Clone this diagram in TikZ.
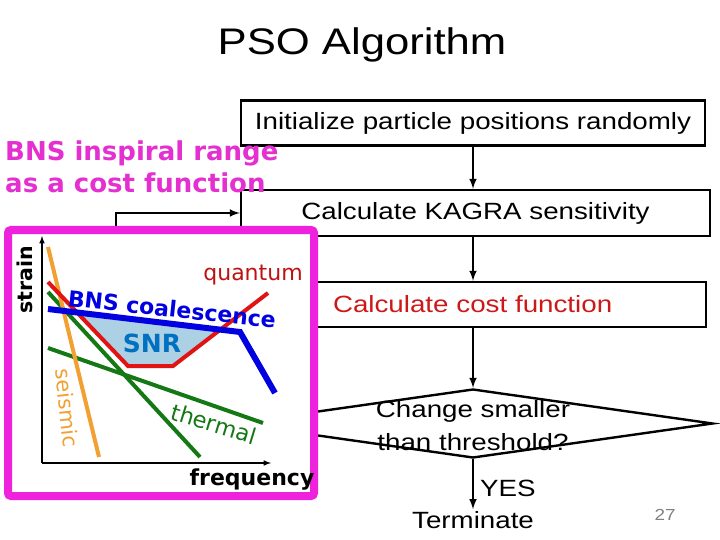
\documentclass[tikz,border=0pt]{standalone}
\usepackage{fontspec}
\setmainfont{Liberation Sans}[FakeStretch=1.18]
\newfontfamily\vfont{DejaVu Sans}
\usetikzlibrary{shapes.geometric}

\definecolor{pinkbox}{RGB}{238,34,221}
\definecolor{pinktext}{RGB}{228,48,208}
\definecolor{costred}{RGB}{204,24,24}
\definecolor{seisorange}{RGB}{242,160,50}
\definecolor{thermgreen}{RGB}{20,120,20}
\definecolor{quantred}{RGB}{225,20,20}
\definecolor{bnsblue}{RGB}{0,0,225}
\definecolor{snrblue}{RGB}{0,112,192}
\definecolor{snrfill}{RGB}{172,208,228}

\tikzset{
  stepbox/.style={draw, line width=2.4pt, inner sep=0pt, minimum height=45,
    font=\fontsize{23.5}{28}\selectfont},
  flowtext/.style={inner sep=2pt, font=\fontsize{23.5}{33}\selectfont},
  decision/.style={draw, diamond, line width=2.4pt, inner sep=0pt,
    minimum width=480, minimum height=69},
  flow/.style={->, line width=2.4pt},
  curve/.style={line width=4pt},
  plotlbl/.style={inner sep=0pt, font=\vfont\fontsize{22}{26}\selectfont}
}

\begin{document}
\begin{tikzpicture}[x=1pt,y=-1pt,>=latex]
  \useasboundingbox (0,0) rectangle (720,540);
  \node[font=\fontsize{37}{40}\selectfont] (title) at (362,45) {PSO Algorithm};

  % flow chart
  \node[stepbox, minimum width=464] (init) at (473,123) {Initialize particle positions randomly};
  \node[stepbox, minimum width=469, minimum height=46] (calc) at (475.5,213) {Calculate KAGRA sensitivity};
  \node[stepbox, text width=357, align=left, inner xsep=16pt] (cost) at (511.5,304.5) {\color{costred}Calculate cost function};
  \node[decision] (chk) at (473,423.5) {};
  \node[flowtext, align=center] (chktxt) at (473,426) {Change smaller\\than threshold?};
  \node[flowtext] (term) at (473,520) {Terminate};
  \node[text=gray, font=\fontsize{16}{18}\selectfont] (page) at (665,515) {27};
  \coordinate (back) at (116,423.5);

  \draw[flow] (init.south) -- (init.south |- calc.north);
  \draw[flow] (init.south |- calc.south) -- (init.south |- cost.north);
  \draw[flow] (init.south |- cost.south) -- (chk.north);
  \draw[flow] (chk.south) -- node[flowtext, right=4pt, pos=0.58] {YES} (term.north);
  \draw[flow] (chk.west) -- (back) |- (calc.west);

  % sensitivity sketch
  \draw[pinkbox, line width=8pt, rounded corners=3pt, fill=white] (8,230) rectangle (314,496);
  \coordinate (origin) at (42,463);
  \fill[snrfill] (77,312.5) -- (128,366) -- (173,366) -- (220,329) -- cycle;
  \draw[thermgreen, curve] (48,292) -- (200,457);
  \draw[thermgreen, curve] (48,348) -- (263,423);
  \draw[seisorange, curve] (48,247) -- (99,457);
  \draw[quantred, curve] (48,282) -- (128,366) -- (173,366) -- (268,293);
  \draw[bnsblue, line width=6pt] (48,309) -- (240,332) -- (275,393);
  \draw[->, line width=1.5pt] (origin) -- (42,236);
  \draw[->, line width=1.5pt] (origin) -- (271,463);

  \node[plotlbl, font=\vfont\bfseries\fontsize{20.5}{24}\selectfont, rotate=90] (strain) at (25,280) {strain};
  \node[plotlbl, font=\vfont\bfseries\fontsize{22}{26}\selectfont] (freq) at (252,480) {frequency};
  \node[plotlbl, text=seisorange, font=\vfont\fontsize{21}{24}\selectfont, rotate=-84] (seis) at (67,408) {seismic};
  \node[plotlbl, text=thermgreen, font=\vfont\fontsize{22.5}{26}\selectfont, rotate=-17] (therm) at (214,424) {thermal};
  \node[plotlbl, text=quantred!85!black] (quant) at (253,275) {quantum};
  \node[plotlbl, text=bnsblue, font=\vfont\bfseries\fontsize{22}{24}\selectfont, rotate=-6] (bns) at (172,309) {BNS coalescence};
  \node[plotlbl, text=snrblue, font=\vfont\bfseries\fontsize{25}{28}\selectfont] (snr) at (152,343) {SNR};

  \node[anchor=west, align=left, inner sep=0pt, text=pinktext,
    font=\vfont\bfseries\fontsize{26}{32}\selectfont] (costlbl) at (5,167) {BNS inspiral range\\as a cost function};
\end{tikzpicture}
\end{document}
